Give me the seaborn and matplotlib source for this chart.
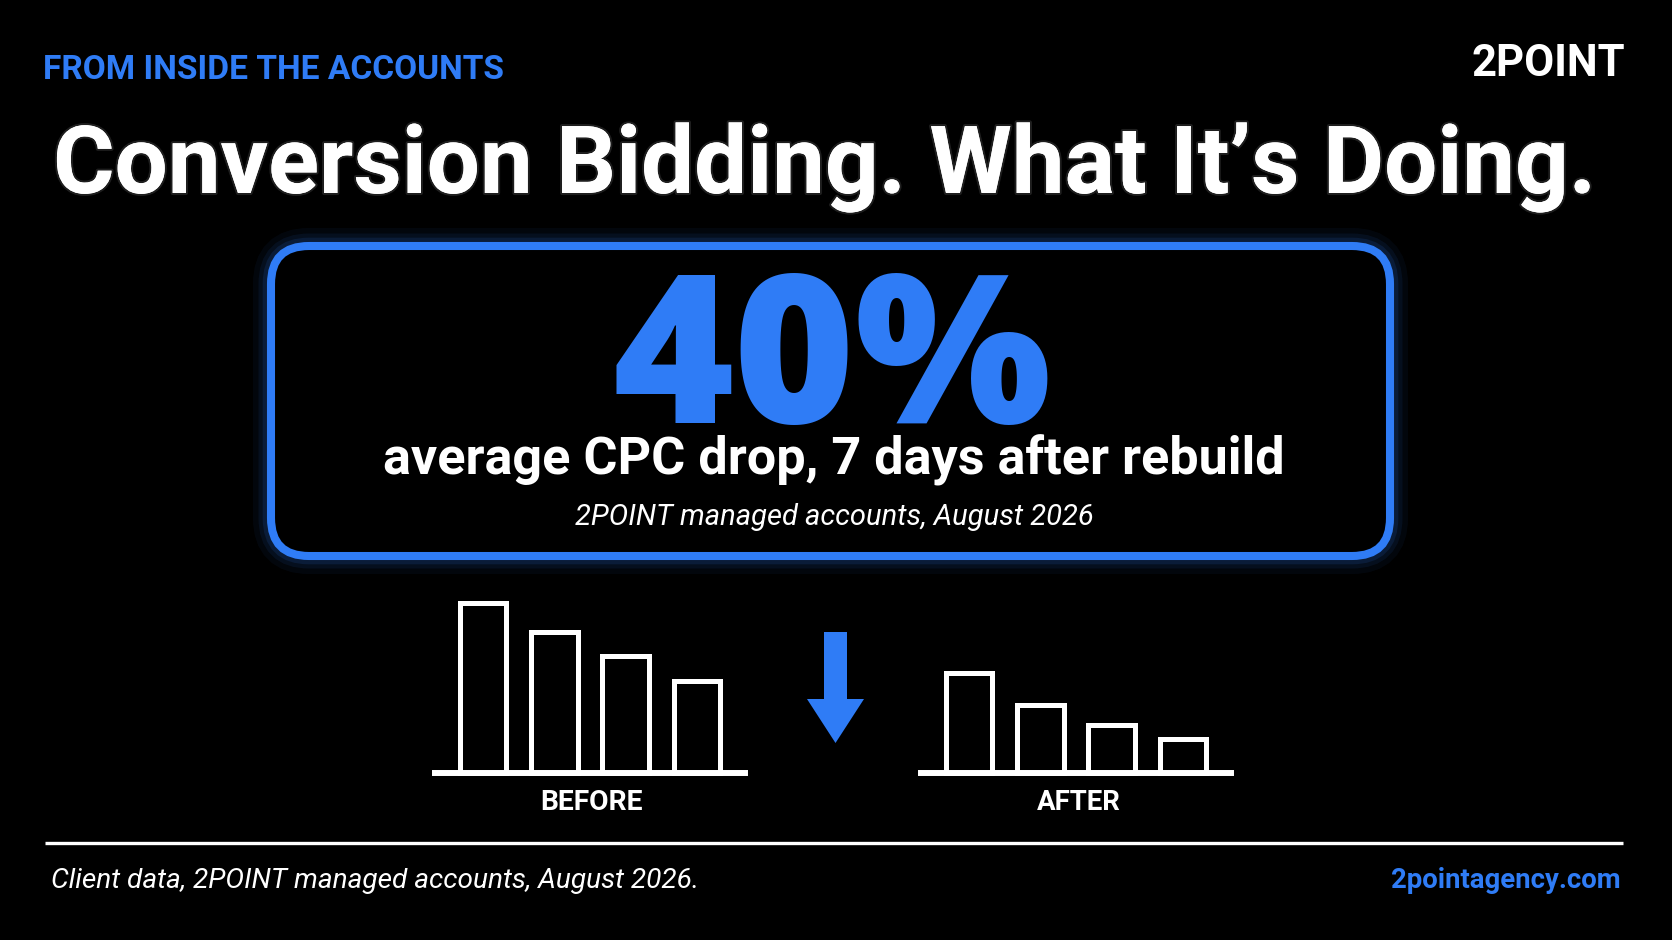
import matplotlib
matplotlib.use("Agg")
import matplotlib.pyplot as plt
import matplotlib.patheffects as pe
from matplotlib.patches import FancyBboxPatch, Polygon
import pandas as pd
import seaborn as sns

# Datos (altura relativa de cada barra, la primera = 100)
bar_slots = ["b1", "b2", "b3", "b4"]
before_values = [100, 83, 69, 54]
after_values = [59, 40, 28, 20]
group_labels = ["BEFORE", "AFTER"]

kicker = "FROM INSIDE THE ACCOUNTS"
brand = "2POINT"
title = "Conversion Bidding. What It\u2019s Doing."
big_number = "40%"
big_caption = "average CPC drop, 7 days after rebuild"
big_source = "2POINT managed accounts, August 2026"
footer_note = "Client data, 2POINT managed accounts, August 2026."
footer_site = "2pointagency.com"

BLUE = "#2f7cf6"
W, H = 1672, 940

sns.set_theme(style="white", rc={"figure.facecolor": "black", "axes.facecolor": "none",
                                  "savefig.facecolor": "black"})
plt.rcParams["font.family"] = ["Roboto", "DejaVu Sans"]

fig = plt.figure(figsize=(W / 100, H / 100), dpi=100)
fig.patch.set_facecolor("black")

# capa en pixeles para textos y decoracion
ax = fig.add_axes([0, 0, 1, 1])
ax.set_xlim(0, W)
ax.set_ylim(H, 0)
ax.axis("off")

# caja redondeada con brillo
for lw, a in [(26, 0.05), (18, 0.08), (12, 0.12)]:
    ax.add_patch(FancyBboxPatch((271, 246), 1119, 310,
                                boxstyle="round,pad=0,rounding_size=38",
                                fc="none", ec=BLUE, lw=lw, alpha=a))
ax.add_patch(FancyBboxPatch((271, 246), 1119, 310,
                            boxstyle="round,pad=0,rounding_size=38",
                            fc="black", ec=BLUE, lw=5.8))

# flecha hacia abajo
ax.add_patch(Polygon([(824, 632), (847, 632), (847, 699), (864, 699),
                      (835.5, 743), (807, 699), (824, 699)],
                     closed=True, fc=BLUE, ec="none"))

# linea del pie
ax.plot([45, 1623], [843, 843], color="white", lw=2.4, solid_capstyle="butt")

glow = [pe.withStroke(linewidth=3, foreground=(1, 1, 1, 0.12))]

textos = []
def put(x, y, s, target_w, **kw):
    t = ax.text(x, y, s, **kw)
    textos.append((t, target_w))
    return t

put(43, 70, kicker, 460, color=BLUE, fontsize=20, fontweight="bold", ha="left", va="center")
put(1625, 64, brand, 154, color="white", fontsize=28, fontweight="bold", ha="right", va="center")
put(53, 193, title, 1543, color="white", fontsize=70, fontweight="bold", ha="left",
    va="baseline", path_effects=glow)
put(832, 423, big_number, 440, color=BLUE, fontsize=140, fontweight=800,
    family=["Open Sans", "DejaVu Sans"], ha="center", va="baseline")
put(834, 475, big_caption, 903, color="white", fontsize=33, fontweight="bold", ha="center",
    va="baseline")
put(834, 525, big_source, 518, color="white", fontsize=19, fontstyle="italic",
    ha="center", va="baseline")
put(591, 802, group_labels[0], 103, color="white", fontsize=17, fontweight="bold",
    ha="center", va="center")
put(1079, 802, group_labels[1], 84, color="white", fontsize=17, fontweight="bold",
    ha="center", va="center")
put(51, 888, footer_note, 649, color="white", fontsize=19, fontstyle="italic",
    ha="left", va="baseline")
put(1621, 888, footer_site, 229, color=BLUE, fontsize=20, fontweight="bold",
    ha="right", va="baseline")

# ajustar tamanos para que el ancho coincida
fig.canvas.draw()
r = fig.canvas.get_renderer()
for t, tw in textos:
    bw = t.get_window_extent(r).width
    t.set_fontsize(t.get_fontsize() * tw / bw)

# graficas de barras con seaborn
def barras(left_px, values):
    df = pd.DataFrame({"slot": bar_slots, "valor": values})
    axb = fig.add_axes([left_px / W, 1 - 773 / H, 310 / W, 170 / H])
    sns.barplot(data=df, x="slot", y="valor", ax=axb, color="black", edgecolor="white",
                linewidth=3.6, width=0.65, saturation=1)
    for p in axb.patches:
        p.set_clip_on(False)
        p.set_joinstyle("miter")
    axb.set_xlim(-0.68, 3.68)
    axb.set_ylim(0, 100)
    axb.set_xticks([])
    axb.set_yticks([])
    axb.set_xlabel("")
    axb.set_ylabel("")
    sns.despine(ax=axb, left=True)
    axb.spines["bottom"].set_color("white")
    axb.spines["bottom"].set_linewidth(4.3)
    axb.spines["bottom"].set_zorder(5)
    axb.patch.set_alpha(0)
    return axb

barras(435, before_values)
barras(921, after_values)

fig.savefig("out.png", dpi=100, facecolor="black")
